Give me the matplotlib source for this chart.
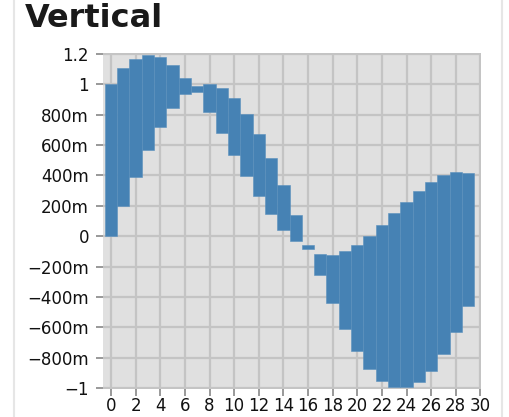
import matplotlib
matplotlib.use('Agg')
import matplotlib.pyplot as plt
from matplotlib.lines import Line2D

# values
x_vals = list(range(30))
y_vals = [0, 0.2, 0.39, 0.567, 0.717, 0.843, 0.937, 0.986, 1.0, 0.973,
          0.909, 0.807, 0.673, 0.515, 0.335, 0.141, -0.061, -0.253, -0.442, -0.609,
          -0.757, -0.871, -0.95, -0.995, -0.995, -0.957, -0.884, -0.772, -0.632, -0.46]
y2_vals = [1.0, 1.105, 1.168, 1.19, 1.177, 1.127, 1.043, 0.946, 0.816, 0.678,
           0.535, 0.394, 0.262, 0.143, 0.044, -0.033, -0.086, -0.119, -0.123, -0.099,
           -0.057, 0.0, 0.073, 0.15, 0.226, 0.299, 0.358, 0.403, 0.424, 0.418]

x_ticks = list(range(0, 31, 2))
y_ticks = [-1, -0.8, -0.6, -0.4, -0.2, 0, 0.2, 0.4, 0.6, 0.8, 1, 1.2]
y_labels = ['\u22121', '\u2212800m', '\u2212600m', '\u2212400m', '\u2212200m', '0',
            '200m', '400m', '600m', '800m', '1', '1.2']

plt.rcParams['font.family'] = ['DejaVu Sans']

fig = plt.figure(figsize=(5.09, 4.17), dpi=100)
ax = fig.add_axes([103 / 509, 28 / 417, 378 / 509, 336 / 417])
ax.set_facecolor('#e0e0e0')

bottoms = [min(a, b) for a, b in zip(y_vals, y2_vals)]
heights = [abs(a - b) for a, b in zip(y_vals, y2_vals)]
ax.bar(x_vals, heights, bottom=bottoms, width=1.0, color='#4682b4',
       edgecolor='#5a90bd', linewidth=0.4, zorder=3)

ax.set_xlim(-0.65, 30.05)
ax.set_ylim(-1.005, 1.205)
ax.set_xticks(x_ticks)
ax.set_xticklabels([str(t) for t in x_ticks])
ax.set_yticks(y_ticks)
ax.set_yticklabels(y_labels)
ax.grid(True, color='#c4c4c4', linewidth=1.6, zorder=0)
ax.set_axisbelow(True)
for s in ax.spines.values():
    s.set_visible(False)
ax.tick_params(axis='both', colors='#888888', labelcolor='#111111', labelsize=12,
               length=5, width=1.2)
ax.tick_params(axis='y', pad=5)
ax.tick_params(axis='x', pad=1)

fig.text(25 / 509, 1 - 27 / 417, 'Vertical', fontsize=23, fontweight='bold',
         color='#1a1a1a', va='baseline', ha='left')

# thin borders of the surrounding panel
fig.add_artist(Line2D([14 / 509, 14 / 509], [0, 1], color='#e6e6e6', linewidth=1.5))
fig.add_artist(Line2D([502 / 509, 502 / 509], [0, 1], color='#e6e6e6', linewidth=1.5))

fig.savefig('out.png', dpi=100)
